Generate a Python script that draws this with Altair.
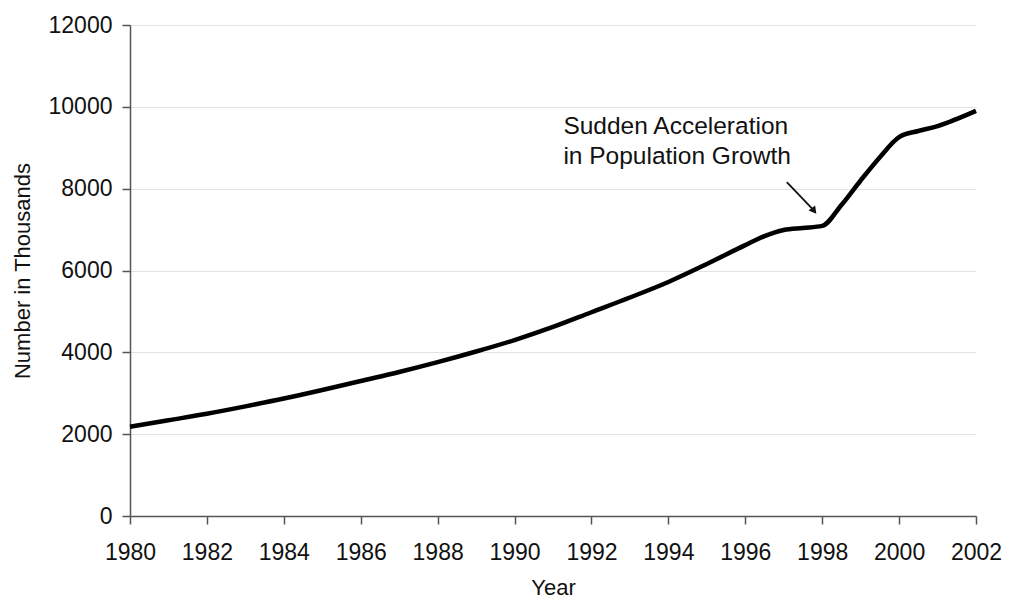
import altair as alt
import pandas as pd

years = [1980, 1981, 1982, 1983, 1984, 1985, 1986, 1987, 1988, 1989, 1990,
         1991, 1992, 1993, 1994, 1995, 1996, 1996.5, 1997, 1997.5, 1998,
         1998.5, 1999, 1999.5, 2000, 2000.5, 2001, 2002]
values = [2180, 2340, 2500, 2680, 2870, 3080, 3300, 3520, 3760, 4020, 4300,
          4620, 4980, 5340, 5720, 6160, 6620, 6840, 6990, 7040, 7090,
          7600, 8200, 8770, 9260, 9410, 9530, 9900]

annot_lines = ["Sudden Acceleration", "in Population Growth"]
annot_x = [1991.27, 1991.27]
annot_y = [9510, 8775]
arrow_from = (1997.08, 8160)
arrow_to = (1997.77, 7480)

FONT = "Liberation Sans"

df = pd.DataFrame({"Year": years, "Value": values})
text_df = pd.DataFrame({"x": annot_x, "y": annot_y, "t": annot_lines})
arrow_df = pd.DataFrame({"x": [arrow_from[0]], "y": [arrow_from[1]],
                         "x2": [arrow_to[0]], "y2": [arrow_to[1]]})
head_df = pd.DataFrame({"x": [arrow_to[0]], "y": [arrow_to[1]]})

xscale = alt.Scale(domain=[1980, 2002], nice=False, zero=False)
yscale = alt.Scale(domain=[0, 12000], nice=False)

xaxis = alt.Axis(values=list(range(1980, 2003, 2)), format="d", title="Year",
                 grid=False, tickSize=8, labelPadding=17, titlePadding=13,
                 labelFlush=False, labelOverlap=False)
yaxis = alt.Axis(values=list(range(0, 12001, 2000)), format="d",
                 title="Number in Thousands", grid=True, tickSize=8,
                 labelPadding=10, titlePadding=14, labelFlush=False)

line = alt.Chart(df).mark_line(color="black", strokeWidth=4.5,
                               interpolate="monotone").encode(
    x=alt.X("Year:Q", scale=xscale, axis=xaxis),
    y=alt.Y("Value:Q", scale=yscale, axis=yaxis),
)

text = alt.Chart(text_df).mark_text(align="left", baseline="middle",
                                    font=FONT, fontSize=24.5, color="#111").encode(
    x=alt.X("x:Q", scale=xscale), y=alt.Y("y:Q", scale=yscale), text="t:N")

arrow = alt.Chart(arrow_df).mark_rule(color="#111", strokeWidth=1.8).encode(
    x=alt.X("x:Q", scale=xscale), y=alt.Y("y:Q", scale=yscale),
    x2="x2:Q", y2="y2:Q")

head = alt.Chart(head_df).mark_point(shape="triangle", filled=True, size=70,
                                     angle=142, color="#111", opacity=1).encode(
    x=alt.X("x:Q", scale=xscale), y=alt.Y("y:Q", scale=yscale))

chart = alt.layer(line, text, arrow, head).properties(
    width=846, height=491,
    padding={"left": 3, "top": 6, "right": 0, "bottom": 3},
).configure_view(stroke=None).configure_axis(
    labelFont=FONT, titleFont=FONT, labelFontSize=23, titleFontSize=22,
    labelColor="#111", titleColor="#111", titleFontWeight="normal",
    domainColor="#555", domainWidth=1.5, tickColor="#555", tickWidth=1.5,
    gridColor="#e2e2e2", gridWidth=1.2,
)

chart.save("out.html", embed_options={"renderer": "svg", "actions": False})
